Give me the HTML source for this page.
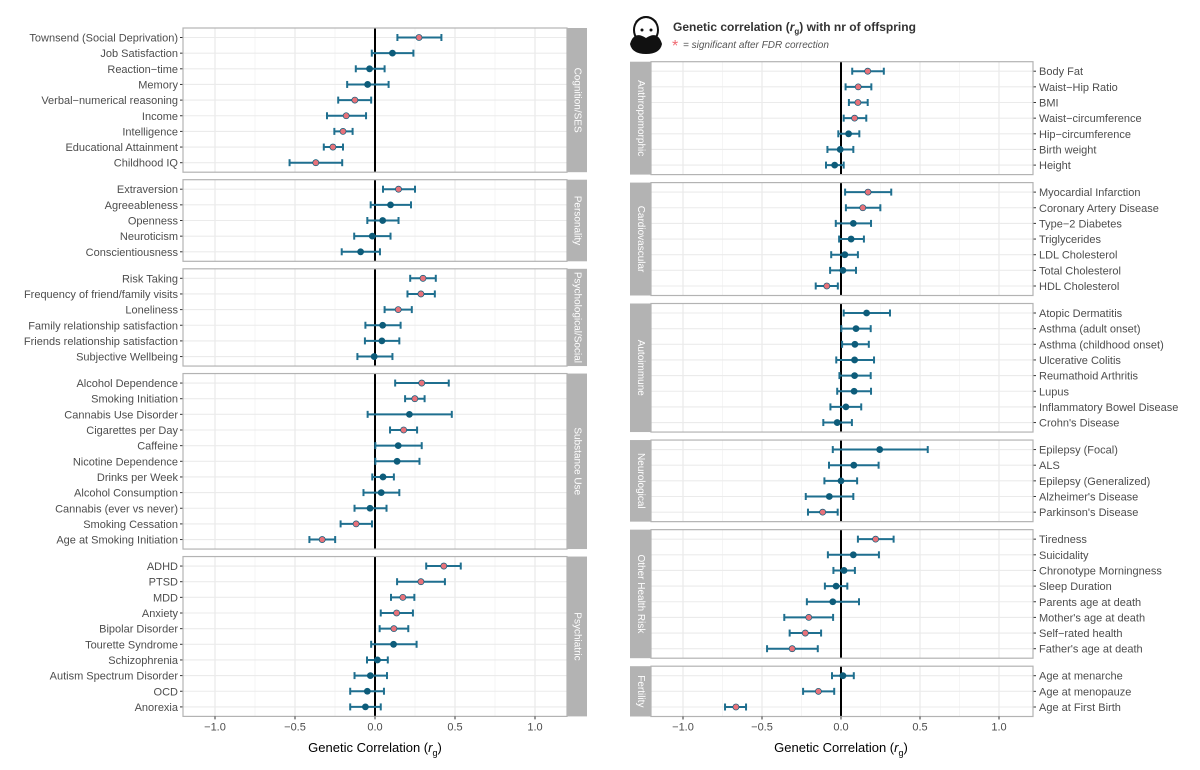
<!DOCTYPE html>
<html><head><meta charset="utf-8"><style>
html,body{margin:0;padding:0;background:#fff;}
svg{display:block;font-family:"Liberation Sans",Arial,sans-serif;}
</style></head><body>
<svg id="chart" width="1200" height="770" viewBox="0 0 1200 770" xmlns="http://www.w3.org/2000/svg">
<g>
  <g>
    <ellipse cx="646" cy="30" rx="12" ry="13" fill="#fff" stroke="#111" stroke-width="2"/>
    <path d="M630 44 Q634 30 646 38 Q658 30 662 44 Q660 54 646 54 Q632 54 630 44Z" fill="#111"/>
    <path d="M636 22 Q646 12 656 22" stroke="#111" stroke-width="2" fill="none"/>
    <circle cx="642" cy="30" r="1.5" fill="#111"/><circle cx="651" cy="30" r="1.5" fill="#111"/>
  </g>
  <text x="673" y="31" font-size="12" font-weight="bold" fill="#333">Genetic correlation (<tspan font-style="italic">r</tspan><tspan font-size="8" dy="3">g</tspan><tspan dy="-3">) with nr of offspring</tspan></text>
  <text x="672" y="51" font-size="16" fill="#f06a72">*</text>
  <text x="683" y="48" font-size="10" font-style="italic" fill="#555">= significant after FDR correction</text>
</g>
</svg>
<script>
// ---------- LEFT SIDE DATA ----------
const leftPanels = ["Cognition/SES","Personality","Psychological/Social","Substance Use","Psychiatric"];
const leftCounts = [9,5,6,11,10];
const leftLabels = ["Townsend (Social Deprivation)","Job Satisfaction","Reaction\u2212time","Memory","Verbal\u2212numerical reasoning","Income","Intelligence","Educational Attainment","Childhood IQ",
"Extraversion","Agreeableness","Openness","Neuroticism","Conscientiousness",
"Risk Taking","Frequency of friend/family visits","Loneliness","Family relationship satisfaction","Friends relationship satisfaction","Subjective Wellbeing",
"Alcohol Dependence","Smoking Initiation","Cannabis Use Disorder","Cigarettes per Day","Caffeine","Nicotine Dependence","Drinks per Week","Alcohol Consumption","Cannabis (ever vs never)","Smoking Cessation","Age at Smoking Initiation",
"ADHD","PTSD","MDD","Anxiety","Bipolar Disorder","Tourette Syndrome","Schizophrenia","Autism Spectrum Disorder","OCD","Anorexia"];
const leftEst = [0.275,0.109,-0.034,-0.046,-0.126,-0.18,-0.2,-0.263,-0.37,
0.147,0.097,0.048,-0.017,-0.09,
0.3,0.287,0.145,0.048,0.043,-0.005,
0.292,0.249,0.215,0.179,0.145,0.138,0.05,0.039,-0.031,-0.118,-0.33,
0.43,0.287,0.174,0.135,0.118,0.116,0.015,-0.029,-0.048,-0.06];
const leftLo = [0.14,-0.02,-0.12,-0.174,-0.23,-0.30,-0.254,-0.32,-0.534,
0.05,-0.027,-0.048,-0.13,-0.208,
0.22,0.203,0.06,-0.06,-0.063,-0.11,
0.126,0.188,-0.046,0.094,0.002,0.002,-0.017,-0.072,-0.128,-0.215,-0.41,
0.32,0.138,0.1,0.036,0.029,-0.024,-0.05,-0.128,-0.155,-0.155];
const leftHi = [0.415,0.24,0.06,0.085,-0.024,-0.056,-0.14,-0.2,-0.205,
0.25,0.225,0.147,0.097,0.031,
0.38,0.374,0.23,0.16,0.152,0.109,
0.461,0.31,0.48,0.263,0.292,0.278,0.118,0.152,0.072,-0.019,-0.249,
0.536,0.437,0.246,0.237,0.208,0.26,0.08,0.075,0.056,0.036];
const leftSig = [1,0,0,0,1,1,1,1,1, 1,0,0,0,0, 1,1,1,0,0,0, 1,1,0,1,0,0,0,0,0,1,1, 1,1,1,1,1,0,0,0,0,0];

// ---------- RIGHT SIDE DATA ----------
const rightPanels = ["Anthropomorphic","Cardiovascular","Autoimmune","Neurological","Other Health Risk","Fertility"];
const rightCounts = [7,7,8,5,8,3];
const rightLabels = ["Body Fat","Waist\u2212Hip Ratio","BMI","Waist\u2212circumference","Hip\u2212circumference","Birth weight","Height",
"Myocardial Infarction","Coronary Artery Disease","Type\u22122 Diabetes","Triglycerides","LDL Cholesterol","Total Cholesterol","HDL Cholesterol",
"Atopic Dermatitis","Asthma (adult onset)","Asthma (childhood onset)","Ulcerative Colitis","Reumathoid Arthritis","Lupus","Inflammatory Bowel Disease","Crohn's Disease",
"Epilepsy (Focal)","ALS","Epilepsy (Generalized)","Alzheimer's Disease","Parkinson's Disease",
"Tiredness","Suicidality","Chronotype Morningness","Sleep Duration","Parents age at death","Mother's age at death","Self\u2212rated health","Father's age at death",
"Age at menarche","Age at menopauze","Age at First Birth"];
const rightEst = [0.169,0.109,0.107,0.086,0.048,-0.005,-0.04,
0.171,0.138,0.078,0.064,0.024,0.012,-0.09,
0.162,0.095,0.088,0.086,0.086,0.083,0.031,-0.024,
0.245,0.081,0.0,-0.074,-0.116,
0.219,0.078,0.019,-0.031,-0.052,-0.204,-0.226,-0.309,
0.012,-0.143,-0.665];
const rightLo = [0.071,0.029,0.05,0.017,-0.017,-0.086,-0.095,
0.026,0.031,-0.033,-0.012,-0.062,-0.069,-0.16,
0.017,0.002,0.007,-0.03,-0.01,-0.024,-0.067,-0.112,
-0.052,-0.076,-0.105,-0.223,-0.209,
0.107,-0.083,-0.048,-0.102,-0.216,-0.359,-0.325,-0.468,
-0.057,-0.24,-0.734];
const rightHi = [0.271,0.192,0.169,0.16,0.116,0.078,0.017,
0.318,0.249,0.19,0.145,0.107,0.095,-0.02,
0.31,0.188,0.176,0.209,0.188,0.19,0.128,0.069,
0.549,0.238,0.102,0.078,-0.021,
0.333,0.24,0.088,0.04,0.114,-0.05,-0.126,-0.147,
0.081,-0.043,-0.601];
const rightSig = [1,1,1,1,0,0,0, 1,1,0,0,0,0,1, 0,0,0,0,0,0,0,0, 0,0,0,0,1, 1,0,0,0,0,1,1,1, 0,1,1];

const tickVals = [-1.0,-0.5,0.0,0.5,1.0];
const tickLabels = ["\u22121.0","\u22120.5","0.0","0.5","1.0"];
const minorVals = [-0.75,-0.25,0.25,0.75];

const NS = "http://www.w3.org/2000/svg";
const svg = document.getElementById('chart');
function mk(tag, attrs, parent){
  const e = document.createElementNS(NS, tag);
  for (const k in attrs) e.setAttribute(k, attrs[k]);
  (parent||svg).appendChild(e);
  return e;
}
const ROW = 15.65, PAD = 9.5;

function drawSide(side, panels, counts, labels, est, lo, hi, sig, startY, gap, zero, unit, pL, pR, sL, sR){
  const xs = v => zero + v*unit;
  let y = startY, idx = 0;
  const g = mk('g', {});
  
  
  panels.forEach((pname, pi) => {
    const n = counts[pi];
    const h = (n-1)*ROW + 2*PAD;
    const pg = mk('g', {}, g);
    
    
    const bg = mk('rect', {x:pL, y:y, width:pR-pL, height:h, fill:'#fff'}, pg);
    
    
    minorVals.forEach(v => {
      const l = mk('line', {x1:xs(v), x2:xs(v), y1:y, y2:y+h, stroke:'#f3f3f3', 'stroke-width':0.8}, pg);
      
      
    });
    tickVals.forEach(v => {
      const l = mk('line', {x1:xs(v), x2:xs(v), y1:y, y2:y+h, stroke:'#e6e6e6', 'stroke-width':1.1}, pg);
      
      
    });
    for (let r=0; r<n; r++){
      const ry = y + PAD + r*ROW;
      const gl = mk('line', {x1:pL, x2:pR, y1:ry, y2:ry, stroke:'#ebebeb', 'stroke-width':1.1}, pg);
      
      
    }
    const zl = mk('line', {x1:xs(0), x2:xs(0), y1:y, y2:y+h, stroke:'#000', 'stroke-width':2}, pg);
    
    
    for (let r=0; r<n; r++, idx++){
      const ry = y + PAD + r*ROW;
      const eg = mk('g', {}, pg);
      
      
      const bar = mk('line', {x1:xs(lo[idx]), x2:xs(hi[idx]), y1:ry, y2:ry, stroke:'#1f6f8f', 'stroke-width':2}, eg);
      
      
      [lo[idx], hi[idx]].forEach(v => {
        const c = mk('line', {x1:xs(v), x2:xs(v), y1:ry-3.5, y2:ry+3.5, stroke:'#1f6f8f', 'stroke-width':2}, eg);
        
        
      });
      const pt = mk('circle', {cx:xs(est[idx]), cy:ry, r:3.4, fill:'#0d5c7a'}, eg);
      
      
      if (sig[idx]) {
        const sp = mk('circle', {cx:xs(est[idx]), cy:ry, r:2.7, fill:'#e8727a'}, eg);
        
        
      }
      const tk = mk('line', side==='left' ? {x1:pL-3, x2:pL, y1:ry, y2:ry, stroke:'#333','stroke-width':1} : {x1:pR, x2:pR+3, y1:ry, y2:ry, stroke:'#333','stroke-width':1}, pg);
      
      
      const t = mk('text', side==='left' ? {x:pL-5, y:ry+4, 'text-anchor':'end', 'font-size':11, fill:'#4d4d4d'} : {x:pR+6, y:ry+4, 'text-anchor':'start', 'font-size':11, fill:'#4d4d4d'}, pg);
      t.textContent = labels[idx];
      
      
    }
    const border = mk('rect', {x:pL, y:y, width:pR-pL, height:h, fill:'none', stroke:'#b3b3b3', 'stroke-width':1.2}, pg);
    
    
    const strip = mk('rect', {x:sL, y:y, width:sR-sL, height:h, fill:'#b3b3b3'}, pg);
    
    
    const cx = (sL+sR)/2, cy = y + h/2;
    const st = mk('text', {x:cx, y:cy, 'text-anchor':'middle', 'dominant-baseline':'central', 'font-size':10, fill:'#fff', transform:`rotate(90 ${cx} ${cy})`}, pg);
    st.textContent = pname;
    
    
    y += h + gap;
  });
  const bottom = y - gap;
  tickVals.forEach((v,i) => {
    const tk = mk('line', {x1:xs(v), x2:xs(v), y1:bottom, y2:bottom+3, stroke:'#333', 'stroke-width':1}, g);
    
    
    const t = mk('text', {x:xs(v), y:bottom+14, 'text-anchor':'middle', 'font-size':11, fill:'#4d4d4d'}, g);
    t.textContent = tickLabels[i];
    
    
  });
  const at = mk('text', {x:xs(0), y:752, 'text-anchor':'middle', 'font-size':13, fill:'#000'}, g);
  at.innerHTML = 'Genetic Correlation (<tspan font-style="italic">r</tspan><tspan font-size="9" dy="4">g</tspan><tspan dy="-4">)</tspan>';
  
  
}

drawSide('left', leftPanels, leftCounts, leftLabels, leftEst, leftLo, leftHi, leftSig, 28, 7.5, 375, 160, 183, 567, 567, 587);
drawSide('right', rightPanels, rightCounts, rightLabels, rightEst, rightLo, rightHi, rightSig, 61.7, 8, 841, 158, 651, 1033, 630, 651);
</script>
</body></html>
